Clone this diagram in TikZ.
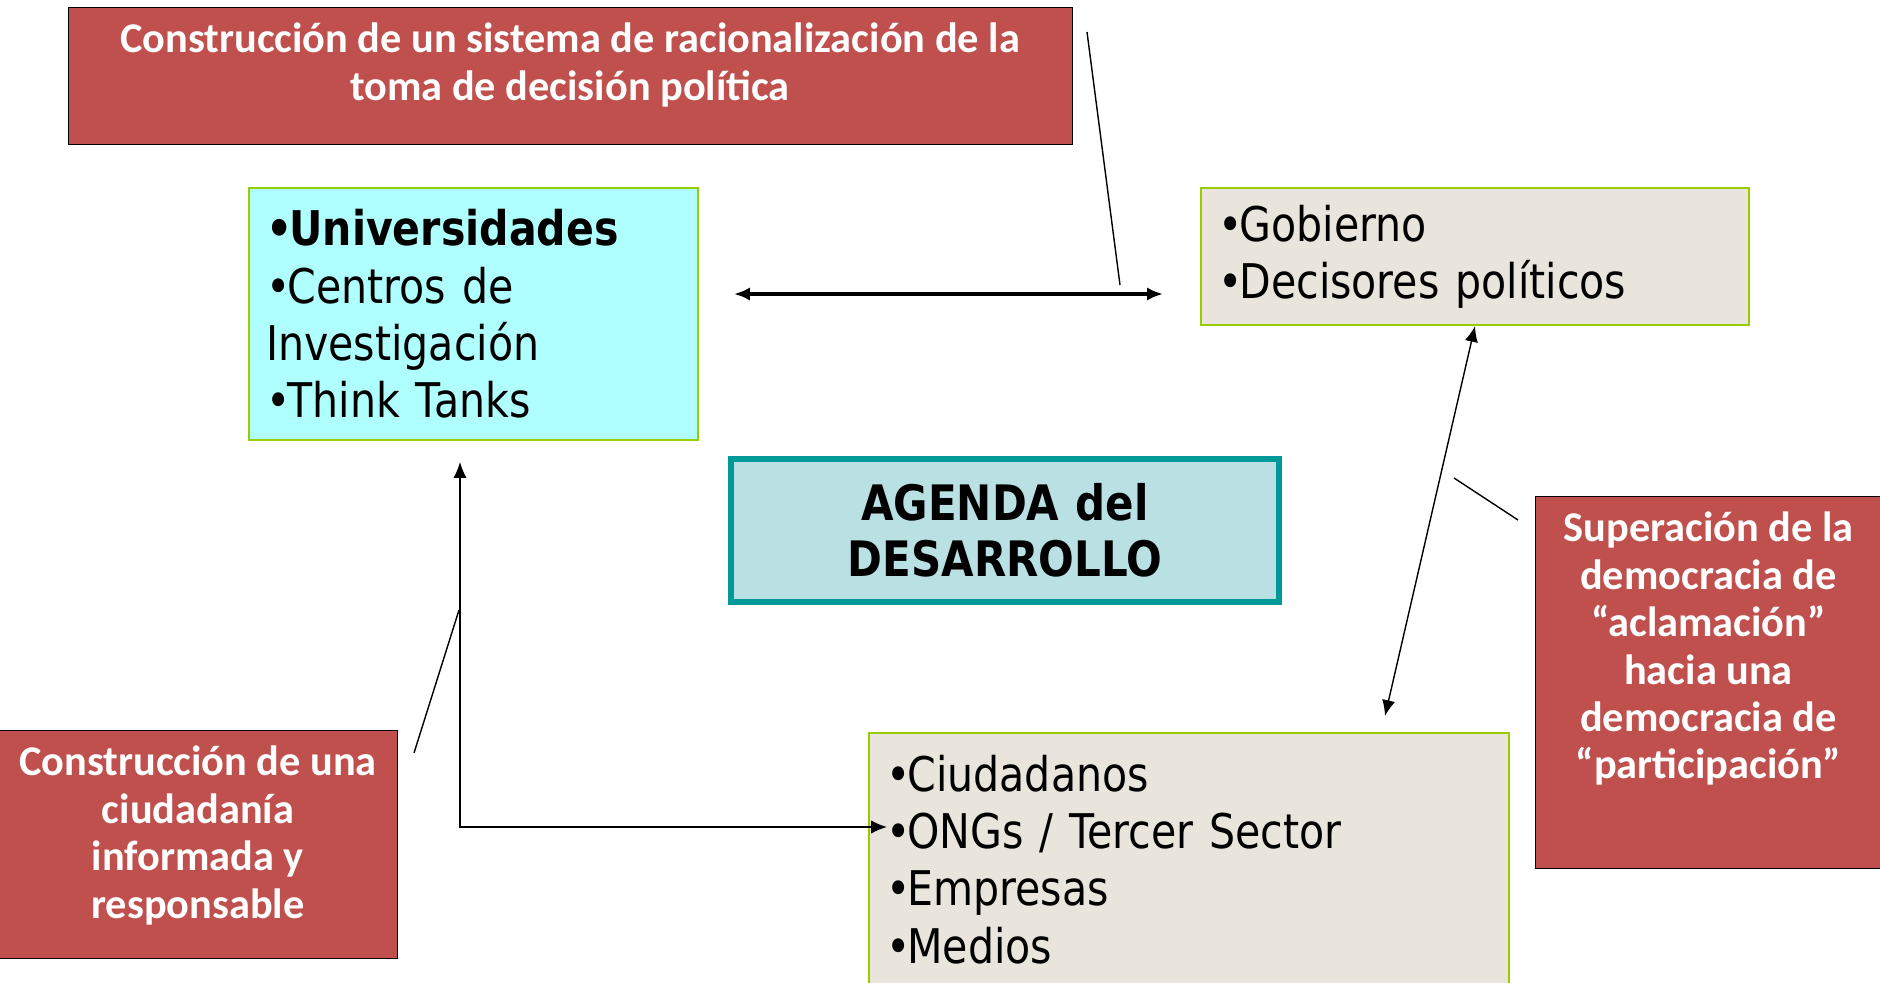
\documentclass[tikz,border=0pt]{standalone}
\usepackage{fontspec}
\usepackage{tikz}
\usetikzlibrary{arrows.meta}
\newfontfamily\tahoma[FakeStretch=0.86]{DejaVu Sans}
\newfontfamily\calibri{Carlito}
\definecolor{rojo}{HTML}{C0504D}
\definecolor{verde}{HTML}{99CC00}
\definecolor{celeste}{HTML}{B0FFFF}
\definecolor{beige}{HTML}{E9E5DC}
\definecolor{turq}{HTML}{B9E0E3}
\definecolor{turqborde}{HTML}{009999}
\newcommand{\bul}{•\kern-0.06em}

\begin{document}
\begin{tikzpicture}[x=0.02cm,y=-0.02cm,>={Latex[length=9pt,width=7.5pt]},
  actor/.style={draw=verde,line width=1.2pt,rectangle,align=left,inner xsep=0.34cm,
    font=\tahoma\fontsize{27.2pt}{32.6pt}\selectfont},
  nota/.style={draw=black,fill=rojo,text=white,rectangle,inner sep=0pt,
    font=\calibri\bfseries\fontsize{24.1pt}{27pt}\selectfont}]
\useasboundingbox (0,0) rectangle (1880,983);

\node[actor,fill=celeste,text width=8.3cm,minimum height=5.04cm] (uni) at (473.5,314)
  {\textbf{\bul Universidades}\\\bul Centros de\\Investigación\\\bul Think Tanks};
\node[actor,fill=beige,text width=10.28cm,minimum height=2.74cm] (gob) at (1475,256.5)
  {\bul Gobierno\\\bul Decisores políticos};
\node[actor,fill=beige,text width=12.12cm,minimum height=5.06cm] (ciu) at (1189,859.5)
  {\bul Ciudadanos\\\bul ONGs / Tercer Sector\\\bul Empresas\\\bul Medios};
\node[actor,draw=turqborde,line width=3pt,fill=turq,align=center,text width=10cm,
  minimum width=10.96cm,minimum height=2.86cm,font=\tahoma\bfseries\fontsize{27.8pt}{32pt}\selectfont] (agenda) at (1005,530.5)
  {AGENDA del\\DESARROLLO};

\node[nota,minimum width=20.08cm] (rtop) at (570,75.5)
  {\parbox[c][2.74cm][t]{19cm}{\centering\vspace*{0.32cm}Construcción de un sistema de racionalización de la\\toma de decisión política}};
\node[nota,minimum width=7.98cm] (rizq) at (198,844)
  {\parbox[c][4.56cm][t]{7.6cm}{\centering\vspace*{0.32cm}Construcción de una\\ciudadanía\\informada y\\responsable}};
\node[nota,minimum width=6.94cm] (rder) at (1708.5,682)
  {\parbox[c][7.44cm][t]{6.6cm}{\centering\vspace*{0.32cm}Superación de la\\democracia de\\“aclamación”\\hacia una\\democracia de\\“participación”}};

\coordinate (dobleA) at (734,294);
\coordinate (dobleB) at (1163,294);
\coordinate (notaA) at (1087,32);
\coordinate (notaB) at (1120,285);
\coordinate (uniB) at (460,462);
\coordinate (ongs) at (887,827);
\coordinate (izqA) at (414,753);
\coordinate (izqB) at (459,610);
\coordinate (ciuT) at (1385,716);
\coordinate (derA) at (1518,520);
\coordinate (derB) at (1454,478);

\draw[<->, line width=1.8pt] (dobleA) to (dobleB);
\draw[thick] (notaA) to (notaB);
\draw[<->, thick] (uniB) |- (ongs);
\draw[thick] (izqA) to (izqB);
\draw[<->, thick] (gob.south) to (ciuT);
\draw[thick] (derA) to (derB);
\end{tikzpicture}
\end{document}
